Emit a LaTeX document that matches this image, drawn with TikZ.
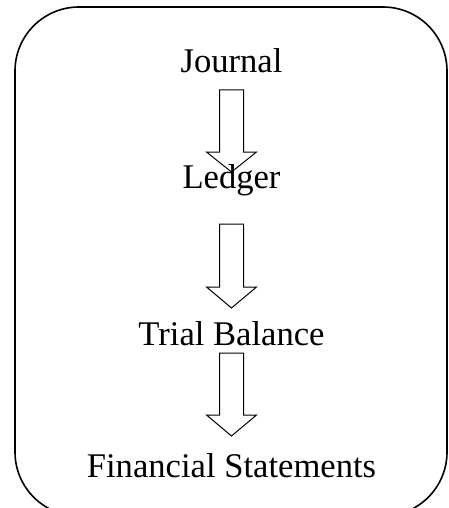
\documentclass[tikz,border=0pt]{standalone}
\usepackage{fontspec}
\setmainfont{Liberation Serif}
\begin{document}
\begin{tikzpicture}[x=1pt,y=-1pt,
  stage/.style={anchor=base, inner sep=0pt, font=\fontsize{34.6}{40}\selectfont},
  frame/.style={draw, line width=1.6pt, rounded corners=64pt},
  hollowarrow/.style={draw, line width=1pt, line join=miter}]
  \useasboundingbox (0,0) rectangle (448,508);
  % outer rounded frame (bottom edge runs past the page)
  \draw[frame] (15,7) rectangle (447,516);
  % stage labels
  \node[stage] (journal) at (231.5,73) {Journal};
  \node[stage] (ledger) at (231.5,188) {Ledger};
  \node[stage] (trial) at (231.5,345) {Trial Balance};
  \node[stage] (fin) at (231.5,477) {Financial Statements};
  % hollow block arrows between the stages
  \newcommand{\blockarrow}[3]{%
    \draw[hollowarrow] (219.5,#1) -- (243.5,#1) -- (243.5,#2) -- (256.5,#2)
      -- (231.5,#3) -- (206.5,#2) -- (219.5,#2) -- cycle;}
  \blockarrow{90}{152}{172}
  \blockarrow{224}{287}{308}
  \blockarrow{353}{415}{436}
\end{tikzpicture}
\end{document}
